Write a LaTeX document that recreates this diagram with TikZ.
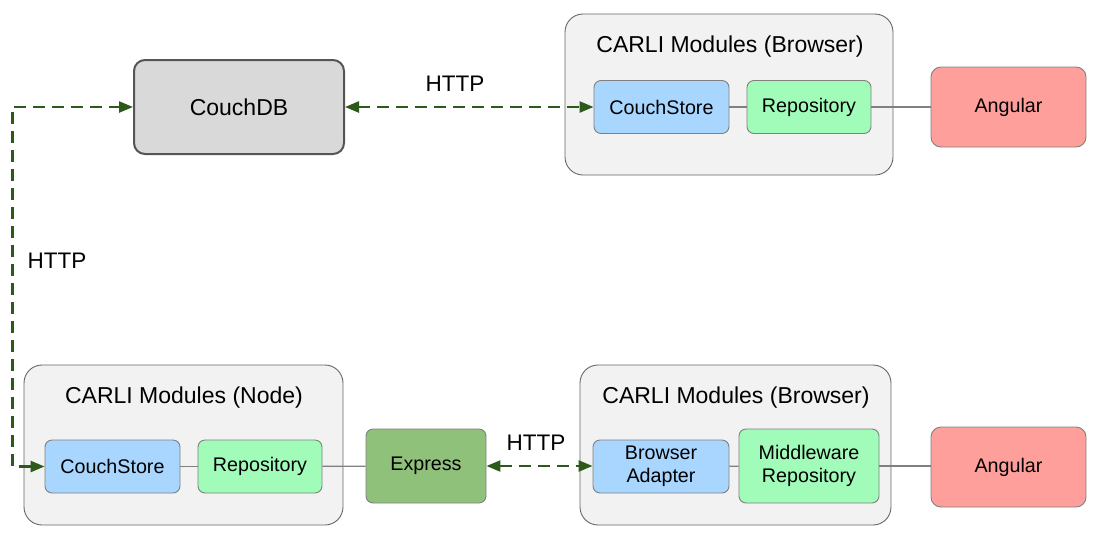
\documentclass[tikz,border=0pt]{standalone}
\usepackage{fontspec}
\setmainfont{Liberation Sans}
\usepackage{tikz}
\usetikzlibrary{arrows.meta,positioning}
\definecolor{xdbfill}{RGB}{217,217,217}
\definecolor{xdbline}{RGB}{85,85,85}
\definecolor{xgroup}{RGB}{242,242,242}
\definecolor{xblue}{RGB}{168,214,255}
\definecolor{xmint}{RGB}{161,252,186}
\definecolor{xsalmon}{RGB}{255,159,155}
\definecolor{xexpress}{RGB}{144,193,122}
\definecolor{xforest}{RGB}{45,90,27}
\definecolor{xedge}{RGB}{128,128,128}

\begin{document}
\begin{tikzpicture}[x=1pt, y=-1pt,
  group/.style={draw=xdbline!90, fill=xgroup, rounded corners=18pt, line width=0.9pt,
                minimum height=160pt},
  title/.style={font=\fontsize{23}{27}\selectfont, text=black},
  db/.style={draw=xdbline, fill=xdbfill, rounded corners=11pt, line width=2pt,
             minimum width=210pt, minimum height=94pt,
             font=\fontsize{23}{27}\selectfont},
  small/.style={draw=xedge, rounded corners=7pt, line width=0.9pt,
                minimum height=53pt, inner sep=2pt, align=center,
                font=\fontsize{19.7}{23}\selectfont},
  big/.style={small, minimum height=74pt},
  client/.style={small, fill=xsalmon, minimum width=155pt, minimum height=80pt,
                 rounded corners=10pt},
  http/.style={{Triangle[length=14pt,width=11pt]}-{Triangle[length=14pt,width=11pt]},
               draw=xforest, line width=2.4pt, dash pattern=on 12pt off 7pt},
  link/.style={draw=xedge, line width=1.2pt},
  lbl/.style={font=\fontsize{22.5}{26}\selectfont}
]
  \useasboundingbox (0,0) rectangle (1103,539);

  \node[db] (couchdb) at (239,107) {CouchDB};

  % browser side, top
  \node[group, minimum width=328pt, minimum height=161pt] (topgrp) at (729,94.5) {};
  \node[title] (toptitle) at (730,47) {CARLI Modules (Browser)};
  \node[small, fill=xblue, minimum width=135pt] (store1) at (661.5,107) {CouchStore};
  \node[small, fill=xmint, minimum width=124pt] (repo1) at (809,107) {Repository};
  \node[client] (ang1) at (1008.5,107) {Angular};

  % node side
  \node[group, minimum width=319pt] (nodegrp) at (183.5,445) {};
  \node[title] (nodetitle) at (184,398) {CARLI Modules (Node)};
  \node[small, fill=xblue, minimum width=135pt] (store2) at (112.5,466.5) {CouchStore};
  \node[small, fill=xmint, minimum width=124pt] (repo2) at (260,466.5) {Repository};
  \node[big, fill=xexpress, minimum width=120pt] (express) at (426,466) {Express};

  % browser side, bottom
  \node[group, minimum width=311pt] (botgrp) at (735.5,445) {};
  \node[title] (bottitle) at (736,398) {CARLI Modules (Browser)};
  \node[small, fill=xblue, minimum width=136pt] (adapter) at (661,466.5) {Browser\\Adapter};
  \node[big, fill=xmint, minimum width=140pt] (mwrepo) at (809,466) {Middleware\\Repository};
  \node[client] (ang2) at (1008.5,467) {Angular};

  \draw[link] (store1) -- (repo1);
  \draw[link] (repo1) -- (ang1);
  \draw[link] (store2) -- (repo2);
  \draw[link] (repo2) -- (express);
  \draw[link] (adapter) -- (mwrepo);
  \draw[link] (mwrepo) -- (ang2.west |- mwrepo);

  \draw[http] (couchdb.east) -- (store1.west);
  \draw[http] (express.east) -- (adapter.west |- express.east);
  \draw[http] (store2.west) -- ++(-32,0) |- (couchdb.west);

  \node[lbl] (http1) at (455,84) {HTTP};
  \node[lbl] (http2) at (57,261) {HTTP};
  \node[lbl] (http3) at (536,443) {HTTP};
\end{tikzpicture}
\end{document}
